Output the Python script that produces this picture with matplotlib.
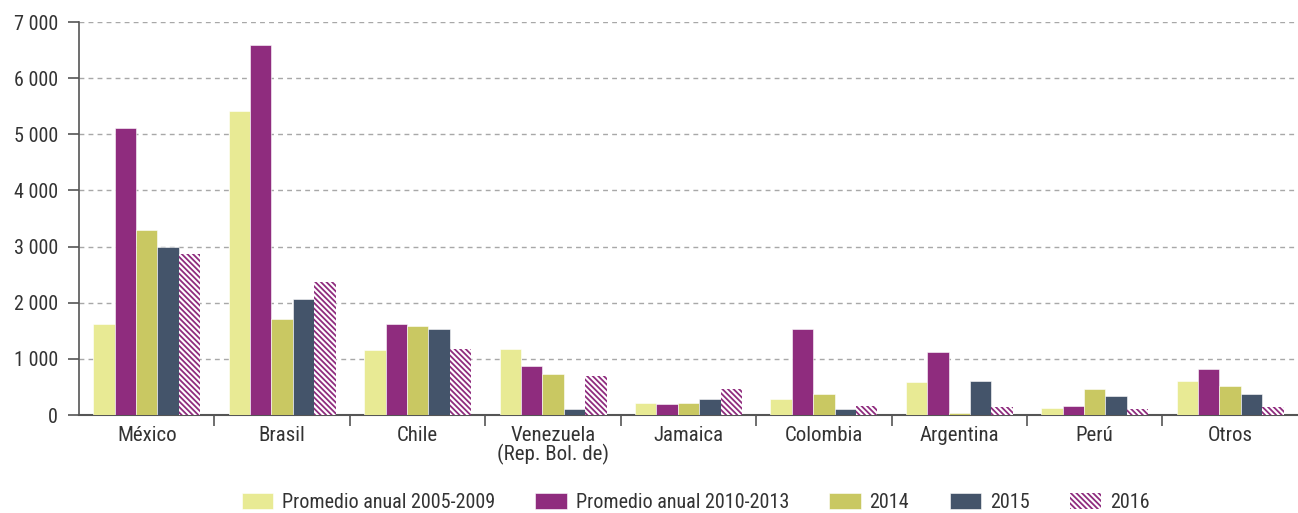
import numpy as np
import matplotlib.pyplot as plt
from matplotlib.ticker import FuncFormatter, FixedLocator

# =====================================================
# Data
# =====================================================

countries = ["México", "Brasil", "Chile", "Venezuela\n(Rep. Bol. de)", "Jamaica",
             "Colombia", "Argentina", "Perú", "Otros"]

prom_2005_2009 = [1620, 5420, 1150, 1170, 220, 280, 580, 130, 610]
prom_2010_2013 = [5120, 6600, 1620, 870, 190, 1530, 1120, 160, 820]
y2014 = [3300, 1710, 1590, 730, 220, 370, 40, 460, 520]
y2015 = [2990, 2070, 1530, 100, 280, 110, 610, 340, 370]
y2016 = [2870, 2370, 1170, 700, 460, 160, 140, 100, 140]

series_labels = ["Promedio anual 2005-2009", "Promedio anual 2010-2013", "2014", "2015", "2016"]

# =====================================================
# Plot
# =====================================================

plt.rcParams["font.family"] = ["Roboto Condensed", "Archivo Narrow", "Barlow Condensed", "DejaVu Sans"]
plt.rcParams["hatch.linewidth"] = 1.3
plt.rcParams["hatch.color"] = "#8F2C7E"

text_color = "#333333"
axis_color = "#555555"

fig = plt.figure(figsize=(12.98, 5.13), dpi=100)
ax = fig.add_axes([0.0609, 0.191, 0.939, 0.766])

x = np.arange(len(countries))
bar_w = 0.158
colors = ["#E8EA94", "#8F2C7E", "#C9C862", "#44546A"]
series = [prom_2005_2009, prom_2010_2013, y2014, y2015]

for i, (vals, col) in enumerate(zip(series, colors)):
    ax.bar(x + (i - 2) * bar_w, vals, bar_w, color=col, label=series_labels[i],
           edgecolor="white", linewidth=0.4, zorder=3)

ax.bar(x + 2 * bar_w, y2016, bar_w, color="white", hatch="\\" * 6,
       edgecolor="#8F2C7E", linewidth=0, label=series_labels[4], zorder=3)

ax.set_xlim(-0.5, len(countries) - 0.5)
ax.set_ylim(0, 7000)
ax.set_yticks(np.arange(0, 7001, 1000))
ax.yaxis.set_major_formatter(FuncFormatter(lambda v, p: f"{int(v):,}".replace(",", " ")))
ax.grid(axis="y", linestyle=(0, (3.5, 3)), color="#A8A8A8", linewidth=1, zorder=0)

ax.set_xticks(x)
ax.set_xticklabels(countries, linespacing=0.95)
ax.xaxis.set_minor_locator(FixedLocator(np.arange(0.5, len(countries) - 0.5, 1)))
ax.tick_params(axis="x", which="major", length=0, pad=8, labelsize=15, colors=text_color)
ax.tick_params(axis="x", which="minor", length=8, width=1.2, color=axis_color, direction="out")
ax.tick_params(axis="y", length=8, width=1.2, color=axis_color, labelsize=14.5,
               labelcolor=text_color, pad=7)

for s in ["top", "right"]:
    ax.spines[s].set_visible(False)
ax.spines["left"].set_color(axis_color)
ax.spines["left"].set_linewidth(1.2)
ax.spines["bottom"].set_color(axis_color)
ax.spines["bottom"].set_linewidth(1.5)

fig.legend(loc="center", bbox_to_anchor=(0.536, 0.02), ncol=5, frameon=False,
           fontsize=14.5, handlelength=1.55, handleheight=0.85, columnspacing=2.0,
           handletextpad=0.45, labelcolor=text_color, borderpad=0)

fig.savefig("out.png", dpi=100)
